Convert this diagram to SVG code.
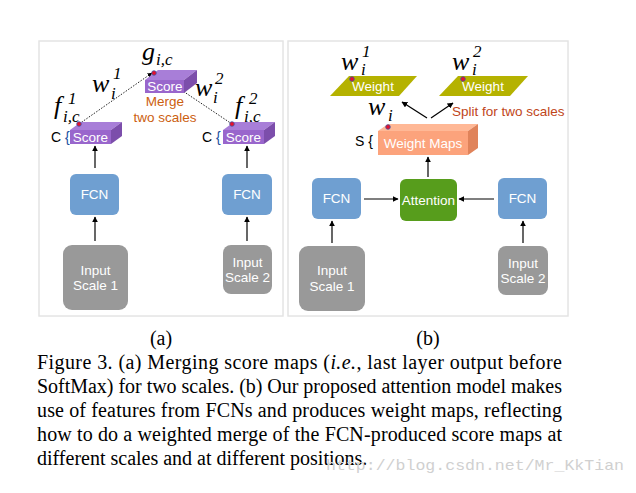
<svg xmlns="http://www.w3.org/2000/svg" width="636" height="493" viewBox="0 0 636 493">
<defs>
<marker id="ah" viewBox="0 0 10 10" refX="9" refY="5" markerWidth="6" markerHeight="6" orient="auto" markerUnits="userSpaceOnUse"><path d="M0,0 L10,5 L0,10 z" fill="#000"/></marker>
<marker id="ahs" viewBox="0 0 10 10" refX="9" refY="5" markerWidth="5" markerHeight="5" orient="auto" markerUnits="userSpaceOnUse"><path d="M0,0 L10,5 L0,10 z" fill="#000"/></marker>
</defs>
<style>
.panel{fill:#fff;stroke:#e4e4e4;stroke-width:1.5}
.lbl{font-family:"Liberation Sans",Arial,sans-serif;font-size:13.5px;fill:#fff;text-anchor:middle}
.fcn{fill:#6f9fd1}
.inp{fill:#999999}
.att{fill:#579d1c}
.wt{fill:#b5b200}
.sf{fill:#9966cc}.st{fill:#a87ed8}.ss{fill:#7c4eab}
.mf{fill:#fca37c}.mt{fill:#ffb896}.ms{fill:#e0835a}
.dot{fill:#e8102a;stroke:#3a55a8;stroke-width:0.8}
.arr{stroke:#000;stroke-width:1.2;fill:none;marker-end:url(#ah)}
.dash{stroke:#222;stroke-width:1;stroke-dasharray:1.5 1.5;fill:none;marker-end:url(#ahs)}
.m{font-family:"Liberation Serif","DejaVu Serif",serif;font-style:italic;fill:#000}
.big{font-size:26px}.sm{font-size:17px}
.br{font-family:"Liberation Sans",Arial,sans-serif;font-size:14px;fill:#000}
.cap{font-family:"Liberation Serif","Times New Roman",serif;font-size:20px;fill:#000}
.note{font-family:"Liberation Sans",Arial,sans-serif;font-size:13.5px}
</style>
<rect width="636" height="493" fill="#fff"/>
<rect class="panel" x="39" y="41" width="244" height="275"/>
<rect class="panel" x="288" y="41" width="280" height="275"/>

<g id="connectors">
<line class="arr" x1="95" y1="168" x2="95" y2="146"/>
<line class="arr" x1="247" y1="168" x2="247" y2="146"/>
<line class="arr" x1="95" y1="241" x2="95" y2="217"/>
<line class="arr" x1="247" y1="241" x2="247" y2="217"/>
<line class="dash" x1="79" y1="124" x2="152" y2="73"/>
<line class="dash" x1="232" y1="124" x2="156" y2="73"/>
<line class="arr" x1="428" y1="177" x2="428" y2="157"/>
<line class="arr" x1="364" y1="199" x2="398" y2="199"/>
<line class="arr" x1="494" y1="199" x2="459" y2="199"/>
<line class="arr" x1="332" y1="243" x2="332" y2="221"/>
<line class="arr" x1="523" y1="243" x2="523" y2="221"/>
<line class="arr" x1="427" y1="118" x2="402" y2="102"/>
<line class="arr" x1="431" y1="118" x2="453" y2="103"/>
</g>

<g id="score-merged">
<polygon class="st" points="145,80 158,70 197,70 184,80"/>
<polygon class="ss" points="184,80 197,70 197,83 184,93"/>
<rect class="sf" x="145" y="80" width="39" height="13"/>
<text class="lbl" x="165" y="91" font-size="13">Score</text>
<circle class="dot" cx="154" cy="73" r="2.3"/>
<text class="m big" x="142" y="60">g</text><text class="m sm" x="156" y="65">i,c</text>
<text class="note" x="165" y="106" text-anchor="middle" fill="#cc6010">Merge</text>
<text class="note" x="165" y="122" text-anchor="middle" fill="#cc6010">two scales</text>
</g>

<g id="labels-a">
<text class="m big" x="92" y="92">w</text><text class="m sm" x="113" y="79">1</text><text class="m sm" x="111" y="99">i</text>
<text class="m big" x="195" y="96">w</text><text class="m sm" x="215" y="84">2</text><text class="m sm" x="213" y="103">i</text>
<text class="m big" x="54" y="114">f</text><text class="m sm" x="68" y="104">1</text><text class="m sm" x="63" y="122">i,c</text>
<text class="m big" x="235" y="114">f</text><text class="m sm" x="249" y="104">2</text><text class="m sm" x="244" y="122">i,c</text>
</g>

<g id="score-1">
<text class="br" x="51" y="142">C <tspan fill="#2050a0">{</tspan></text>
<polygon class="st" points="70,130 81,122 122,122 111,130"/>
<polygon class="ss" points="111,130 122,122 122,136 111,144"/>
<rect class="sf" x="70" y="130" width="41" height="14"/>
<text class="lbl" x="90.5" y="142" font-size="13">Score</text>
<circle class="dot" cx="79" cy="124" r="2.3"/>
</g>

<g id="score-2">
<text class="br" x="202" y="142">C <tspan fill="#2050a0">{</tspan></text>
<polygon class="st" points="223,130 234,122 275,122 264,130"/>
<polygon class="ss" points="264,130 275,122 275,136 264,144"/>
<rect class="sf" x="223" y="130" width="41" height="14"/>
<text class="lbl" x="243.5" y="142" font-size="13">Score</text>
<circle class="dot" cx="232" cy="124" r="2.3"/>
</g>

<g id="fcn-a1"><rect class="fcn" x="70" y="174" width="49" height="41" rx="6"/><text class="lbl" x="94.5" y="199">FCN</text></g>
<g id="fcn-a2"><rect class="fcn" x="222" y="174" width="50" height="41" rx="6"/><text class="lbl" x="247" y="199">FCN</text></g>
<g id="input-a1"><rect class="inp" x="63" y="245" width="65" height="65" rx="9"/><text class="lbl" x="95.5" y="275">Input</text><text class="lbl" x="95.5" y="290">Scale 1</text></g>
<g id="input-a2"><rect class="inp" x="223" y="245" width="49" height="49" rx="8"/><text class="lbl" x="247.5" y="267">Input</text><text class="lbl" x="247.5" y="282">Scale 2</text></g>

<g id="weight-1">
<polygon class="wt" points="349,76 417,76 399,96 330,96"/>
<text class="lbl" x="373" y="91">Weight</text>
<circle class="dot" cx="352" cy="79" r="2.3"/>
<text class="m big" x="341" y="70">w</text><text class="m sm" x="362" y="57">1</text><text class="m sm" x="361" y="75">i</text>
</g>
<g id="weight-2">
<polygon class="wt" points="458,76 528,76 510,96 439,96"/>
<text class="lbl" x="483" y="91">Weight</text>
<circle class="dot" cx="463" cy="79" r="2.3"/>
<text class="m big" x="452" y="70">w</text><text class="m sm" x="473" y="57">2</text><text class="m sm" x="472" y="75">i</text>
</g>
<text class="note" x="452" y="116" fill="#c0461a">Split for two scales</text>

<g id="weight-maps">
<text class="br" x="355" y="146">S {</text>
<text class="m big" x="368" y="115">w</text><text class="m sm" x="388" y="121">i</text>
<polygon class="mt" points="378,131 388,124 478,124 468,131"/>
<polygon class="ms" points="468,131 478,124 478,148 468,155"/>
<rect class="mf" x="378" y="131" width="90" height="24"/>
<text class="lbl" x="423" y="148">Weight Maps</text>
<circle class="dot" cx="388" cy="127" r="2.3"/>
</g>

<g id="attention"><rect class="att" x="400" y="179" width="57" height="42" rx="6"/><text class="lbl" x="428.5" y="205">Attention</text></g>
<g id="fcn-b1"><rect class="fcn" x="312" y="178" width="49" height="41" rx="6"/><text class="lbl" x="336.5" y="203">FCN</text></g>
<g id="fcn-b2"><rect class="fcn" x="498" y="178" width="49" height="41" rx="6"/><text class="lbl" x="522.5" y="203">FCN</text></g>
<g id="input-b1"><rect class="inp" x="299" y="246" width="66" height="65" rx="9"/><text class="lbl" x="332" y="275">Input</text><text class="lbl" x="332" y="291">Scale 1</text></g>
<g id="input-b2"><rect class="inp" x="498" y="246" width="50" height="49" rx="8"/><text class="lbl" x="523" y="268">Input</text><text class="lbl" x="523" y="283">Scale 2</text></g>

<g id="caption">
<text class="cap" x="161" y="345" text-anchor="middle">(a)</text>
<text class="cap" x="428" y="345" text-anchor="middle">(b)</text>
<text class="cap" x="37" y="369" textLength="525" lengthAdjust="spacing">Figure 3. (a) Merging score maps (<tspan font-style="italic">i.e.</tspan>, last layer output before</text>
<text class="cap" x="37" y="393" textLength="525" lengthAdjust="spacing">SoftMax) for two scales. (b) Our proposed attention model makes</text>
<text class="cap" x="37" y="417" textLength="525" lengthAdjust="spacing">use of features from FCNs and produces weight maps, reflecting</text>
<text class="cap" x="37" y="441" textLength="525" lengthAdjust="spacing">how to do a weighted merge of the FCN-produced score maps at</text>
<text class="cap" x="37" y="465">different scales and at different positions.</text>
<text x="326" y="470" font-family="Liberation Mono,monospace" font-size="15" fill="#d0d0d0" textLength="298" lengthAdjust="spacingAndGlyphs">http://blog.csdn.net/Mr_KkTian</text>
</g>
</svg>
